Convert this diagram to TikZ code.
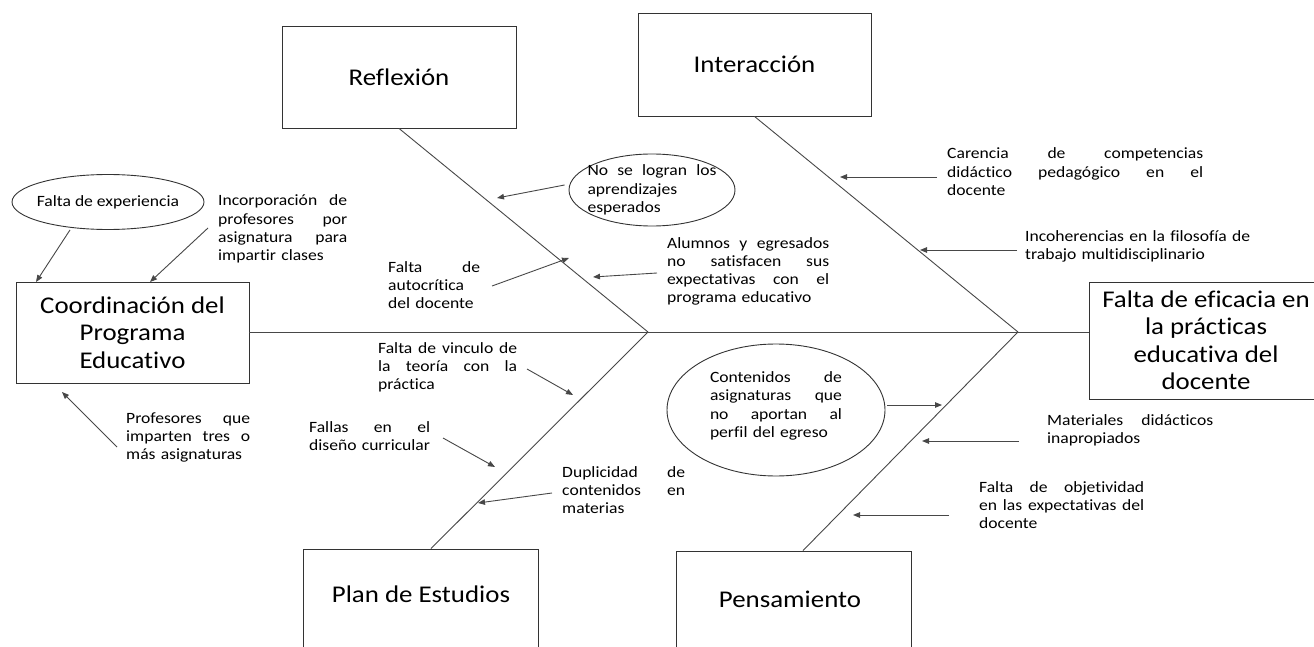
\documentclass[tikz,border=0pt]{standalone}
\usepackage{fontspec}
\setmainfont{Carlito}[FakeStretch=1.12,Ligatures=NoCommon]
\usetikzlibrary{arrows.meta,shapes.geometric,calc}
\newcommand\jline[1]{{\spaceskip=0.25em plus 1fil\xspaceskip=0.25em plus 1fil\makebox[\hsize][s]{#1}}}
\tikzset{
  ln/.style={draw=black!72, line width=0.9pt},
  box/.style={draw=black!80, line width=0.9pt, rectangle, inner sep=0pt},
  ttl/.style={font=\fontsize{24}{29}\selectfont, inner sep=0pt},
  big/.style={font=\fontsize{24}{27.5}\selectfont, align=center},
  sfont/.style={font=\fontsize{15.7}{18.3}\selectfont},
  txt/.style={sfont, align=left, inner sep=0pt, anchor=base west},
  arr/.style={ln, -{Triangle[length=7pt,width=5.5pt]}},
  ell/.style={ellipse, draw=black!80, line width=0.9pt, inner sep=-40pt},
}
\begin{document}
\begin{tikzpicture}[x=1pt,y=-1pt]
\path[use as bounding box, clip] (0,0) rectangle (1314,647);
% main boxes
\node[box, big, minimum width=233, minimum height=101] (coord) at (132.5,332.5) {Coordinación del\\Programa\\Educativo};
\node[box, big, minimum width=234, minimum height=117] (eff) at (1206,340.5) {Falta de eficacia en\\la prácticas\\educativa del\\docente};
\node[box, ttl, minimum width=234, minimum height=102] (refl) at (399,77) {Reflexión};
\node[box, ttl, minimum width=233, minimum height=103] (inter) at (754.5,64.5) {Interacción};
\node[box, minimum width=235, minimum height=103] (plan) at (420.5,600.5) {};
\node[ttl] (plantxt) at (421,594) {Plan de Estudios};
\node[box, minimum width=235, minimum height=103] (pens) at (793.5,602.5) {};
\node[ttl] (penstxt) at (790,599) {Pensamiento};
% spine and bones
\coordinate (j1) at (648,332);
\coordinate (j2) at (1018,332);
\draw[ln] (coord.east) -- (coord.east -| eff.west);
\draw[ln] (refl.south) -- (j1);
\draw[ln] (inter.south) -- (j2);
\draw[ln] (j1) -- ([xshift=10.5pt]plan.north);
\draw[ln] (j2) -- ([xshift=9.5pt]pens.north);
% ellipses
\node[ell, sfont, minimum width=192, minimum height=55] (exp) at (108,202) {Falta de experiencia};
\node[ell, sfont, text width=129, align=left, minimum width=166, minimum height=72] (nologran) at (652,190) {\jline{No se logran los}\\aprendizajes\\esperados};
\node[ell, sfont, text width=132, text depth=66pt, align=left, minimum width=218, minimum height=132] (contenidos) at (776,410) {\jline{Contenidos de}\\\jline{asignaturas que}\\\jline{no aportan al}\\perfil del egreso};
% texts
\node[txt, text width=129] (incorp) at (218,206) {\jline{Incorporación de}\\\jline{profesores por}\\\jline{asignatura para}\\impartir clases};
\node[txt, text width=124] (profes) at (126,423) {\jline{Profesores que}\\\jline{imparten tres o}\\más asignaturas};
\node[txt, text width=92] (autocrit) at (388,272) {\jline{Falta de}\\autocrítica\\del docente};
\node[txt, text width=162] (alumnos) at (667,248) {\jline{Alumnos y egresados}\\\jline{no satisfacen sus}\\\jline{expectativas con el}\\programa educativo};
\node[txt, text width=256] (carencia) at (947,159) {\jline{Carencia de competencias}\\\jline{didáctico pedagógico en el}\\docente};
\node[txt, text width=225] (incoher) at (1025,241) {\jline{Incoherencias en la filosofía de}\\trabajo multidisciplinario};
\node[txt, text width=139] (vinculo) at (378,353) {\jline{Falta de vinculo de}\\\jline{la teoría con la}\\práctica};
\node[txt, text width=121] (fallas) at (309,432) {\jline{Fallas en el}\\diseño curricular};
\node[txt, text width=123] (duplic) at (562,477) {\jline{Duplicidad de}\\\jline{contenidos en}\\materias};
\node[txt, text width=166] (materiales) at (1047,425) {\jline{Materiales didácticos}\\inapropiados};
\node[txt, text width=165] (objetiv) at (979,492) {\jline{Falta de objetividad}\\\jline{en las expectativas del}\\docente};
% arrow heads
\coordinate (h1) at (36,282);
\coordinate (h2) at (150,282);
\coordinate (h3) at (62,392);
\coordinate (h4) at (497,198);
\coordinate (h5) at (569,258);
\coordinate (h6) at (593,277);
\coordinate (h7) at (840,177);
\coordinate (h8) at (920,250);
\coordinate (h9) at (573,395);
\coordinate (h10) at (495,467);
\coordinate (h11) at (478,503);
\coordinate (h12) at (942,405);
\coordinate (h13) at (922,441);
\coordinate (h14) at (853,515);
% arrows
\draw[arr] ($(exp.south)+(-38,0)$) -- (h1);
\draw[arr] ($(incorp.base west)+(-10,22)$) -- (h2);
\draw[arr] ($(profes.base west)+(-9,24)$) -- (h3);
\draw[arr] ($(nologran.west)+(-4,-5)$) -- (h4);
\draw[arr] ($(autocrit.base west)+(104,14)$) -- (h5);
\draw[arr] ($(alumnos.base west)+(-10,25)$) -- (h6);
\draw[arr] ($(carencia.base west)+(-10,18)$) -- (h7);
\draw[arr] ($(incoher.base west)+(-8,9)$) -- (h8);
\draw[arr] ($(vinculo.base west)+(149,16)$) -- (h9);
\draw[arr] ($(fallas.base west)+(134,6)$) -- (h10);
\draw[arr] ($(duplic.base west)+(-10,16)$) -- (h11);
\draw[arr] ($(contenidos.east)+(2,-5)$) -- (h12);
\draw[arr] ($(materiales.base west)+(-28,16)$) -- (h13);
\draw[arr] ($(objetiv.base west)+(-30,23)$) -- (h14);
\end{tikzpicture}
\end{document}
